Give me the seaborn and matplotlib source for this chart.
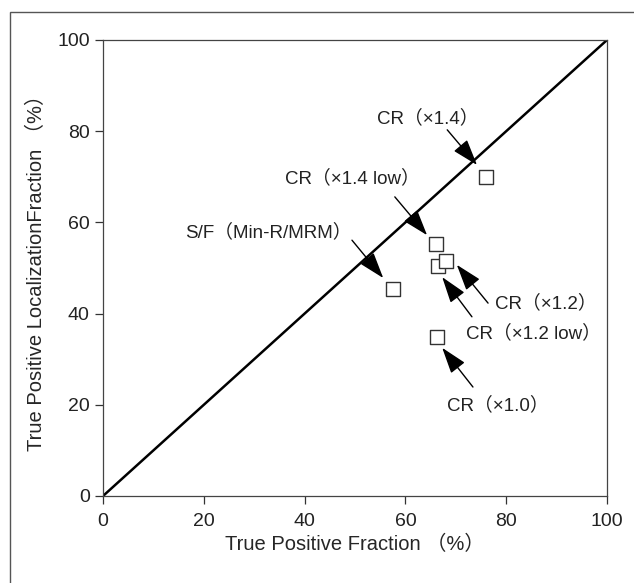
import numpy as np
import pandas as pd
import matplotlib.pyplot as plt
import seaborn as sns
from matplotlib.patches import Rectangle

tpf = [76.0, 66.0, 66.5, 68.0, 57.5, 66.3]          # True Positive Fraction (%)
tplf = [70.0, 55.3, 50.5, 51.5, 45.4, 34.8]         # True Positive Localization Fraction (%)
names = ['CR（×1.4）', 'CR（×1.4 low）', 'CR（×1.2 low）', 'CR（×1.2）',
         'S/F（Min-R/MRM）', 'CR（×1.0）']
ticks = [0, 20, 40, 60, 80, 100]

# left edge of each label and where its arrow starts / ends (data units)
label_xy = [(54.4, 82.9), (36.1, 69.7), (72.0, 35.7), (77.8, 42.3), (16.3, 57.9), (68.3, 20.0)]
arrow_from = [(68.3, 80.3), (57.9, 65.6), (73.2, 39.3), (76.4, 42.3), (49.4, 56.1), (73.4, 23.9)]
arrow_to = [(74.2, 72.6), (64.3, 57.2), (67.3, 48.0), (70.2, 50.7), (55.6, 47.8), (67.3, 32.5)]

df = pd.DataFrame({'tpf': tpf, 'tplf': tplf, 'name': names})
diag = pd.DataFrame({'x': [0, 100], 'y': [0, 100]})

sns.set_style('ticks')
plt.rcParams['font.family'] = ['Liberation Sans', 'Noto Sans CJK JP', 'DejaVu Sans']
plt.rcParams['text.color'] = '#222222'

fig = plt.figure(figsize=(6.34, 5.83), dpi=100)
ax = fig.add_axes([103 / 634, 1 - 496 / 583, 504 / 634, 456 / 583])

# outer frame of the scanned figure
fig.patches.append(Rectangle((10 / 634, -0.1), 1.2, 1 - 12 / 583 + 0.1,
                             transform=fig.transFigure, fill=False,
                             edgecolor='#555555', lw=1.0))

sns.lineplot(data=diag, x='x', y='y', color='black', lw=1.8, ax=ax)
sns.scatterplot(data=df, x='tpf', y='tplf', marker='s', s=110,
                facecolor='white', edgecolor='#333333', linewidth=1.0,
                zorder=3, ax=ax)

for i in range(len(names)):
    ax.annotate('', xy=arrow_to[i], xytext=arrow_from[i],
                arrowprops=dict(arrowstyle='-|>,head_length=0.9,head_width=0.3',
                                mutation_scale=18, color='black', lw=1.0,
                                shrinkA=0, shrinkB=0))
    ax.text(label_xy[i][0], label_xy[i][1], names[i], ha='left', va='center',
            fontsize=13.5)

ax.set_xlim(0, 100)
ax.set_ylim(0, 100)
ax.set_xticks(ticks)
ax.set_yticks(ticks)
ax.tick_params(labelsize=14, length=6, width=0.9, color='#333333', labelcolor='#222222')
ax.tick_params(axis='x', pad=6)
for side in ax.spines.values():
    side.set_linewidth(0.9)
    side.set_color('#444444')
ax.set_xlabel('True Positive Fraction （%）', fontsize=14.5, labelpad=4)
ax.set_ylabel('True Positive LocalizationFraction （%）', fontsize=14.5, labelpad=8)

fig.savefig('out.png', dpi=100)
